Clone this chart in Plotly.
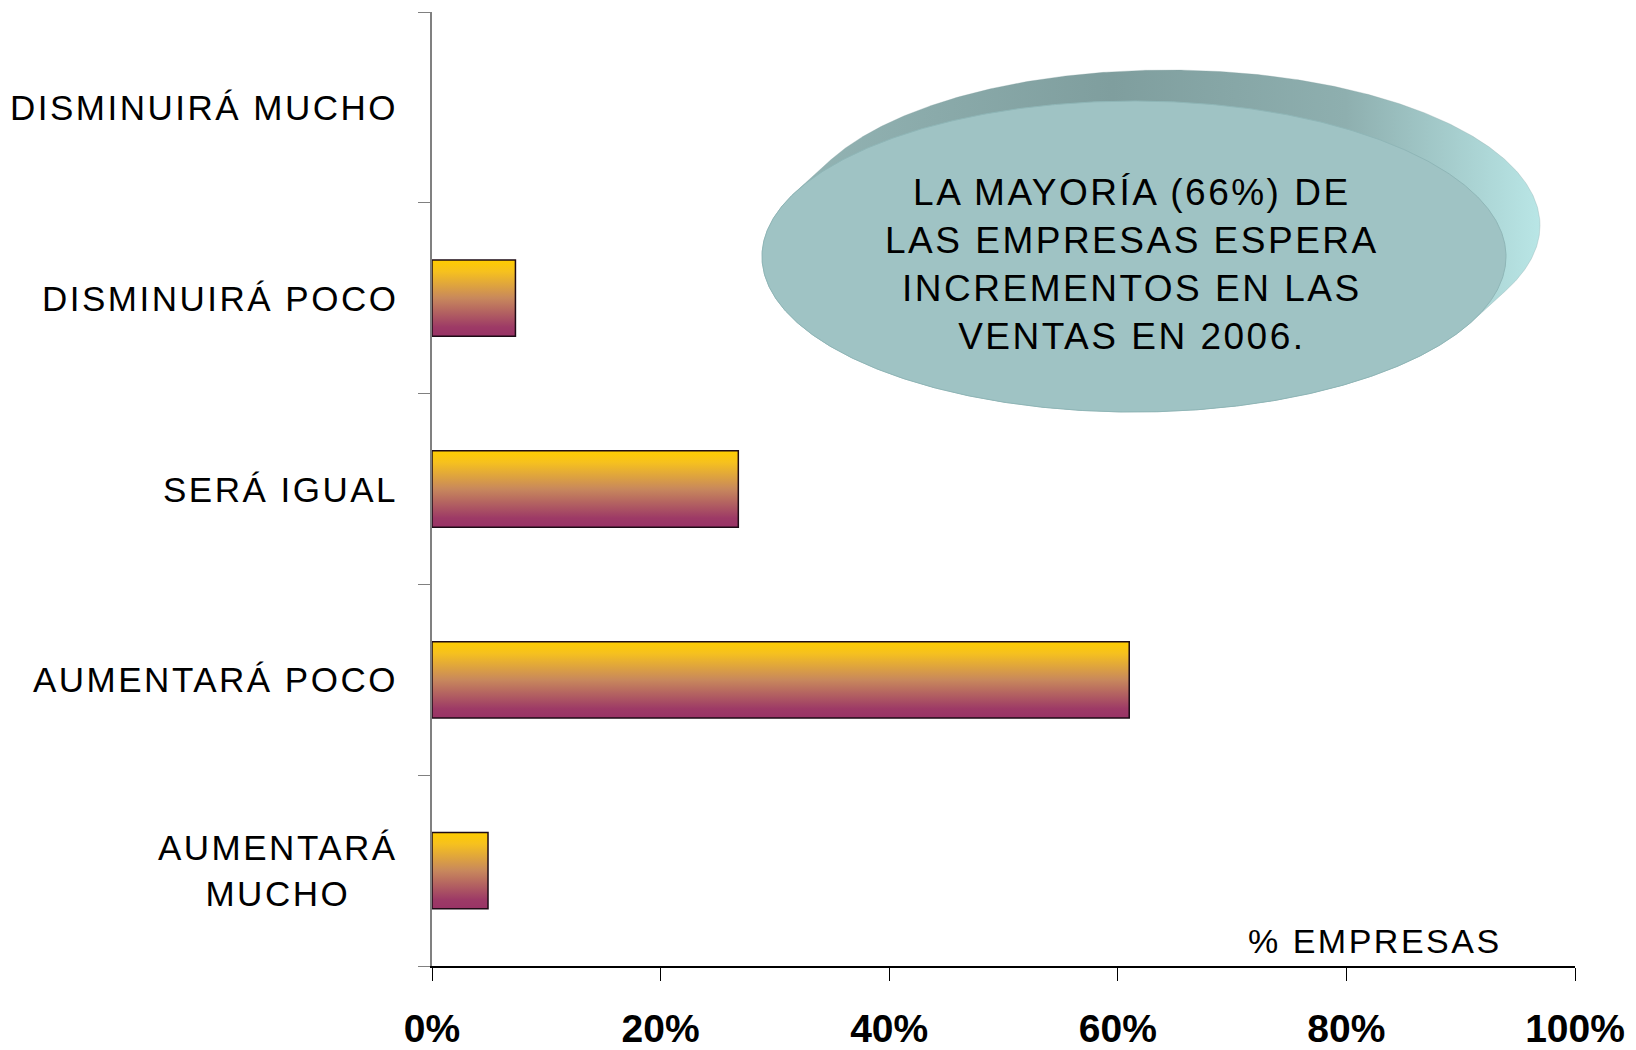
import numpy as np
import plotly.graph_objects as go

# ---------------- data ----------------
categories = ["AUMENTARÁ MUCHO", "AUMENTARÁ POCO", "SERÁ IGUAL", "DISMINUIRÁ POCO", "DISMINUIRÁ MUCHO"]
category_labels = ["AUMENTARÁ<br>MUCHO", "AUMENTARÁ POCO", "SERÁ IGUAL", "DISMINUIRÁ POCO", "DISMINUIRÁ MUCHO"]
values = [4.9, 61.0, 26.8, 7.3, 0.0]          # % empresas
x_ticks = [0, 20, 40, 60, 80, 100]
x_tick_labels = ["0%", "20%", "40%", "60%", "80%", "100%"]
callout_lines = ["LA MAYORÍA (66%) DE", "LAS EMPRESAS ESPERA", "INCREMENTOS EN LAS", "VENTAS EN 2006."]
axis_title = "% EMPRESAS"

# ---------------- layout geometry ----------------
OFF = 8                      # page body margin
W, H = 1636 - OFF, 1050 - OFF
L, R, T, B = 424, 61, 4, 84  # figure-space margins
FONT = "Liberation Sans, Arial, sans-serif"
HALF = 0.2  # half bar thickness in category units

bar_scale = [[0.0, "#993366"], [0.12, "#9d3a66"], [0.5, "#c8885c"],
             [0.85, "#f6c11e"], [1.0, "#ffcc00"]]

fig = go.Figure()

# category axis carrier (invisible bars)
fig.add_trace(go.Bar(x=values, y=categories, orientation="h", width=2 * HALF,
                     marker=dict(color="rgba(0,0,0,0)", line=dict(width=0)),
                     hoverinfo="skip", showlegend=False, xaxis="x", yaxis="y"))

# gradient bars
for i, v in enumerate(values):
    if v <= 0:
        continue
    fig.add_trace(go.Scatter(
        x=[0, v, v, 0, 0], y=[i - HALF, i - HALF, i + HALF, i + HALF, i - HALF],
        mode="lines", fill="toself",
        fillgradient=dict(type="vertical", colorscale=bar_scale),
        line=dict(color="#1e0b16", width=1.5),
        hoverinfo="skip", showlegend=False, xaxis="x", yaxis="y2"))

# callout ellipse (screen-pixel-space decoration)
cx, cy, rx, ry = 1134, 256.5, 372, 155.5
dx, dy = 34, -31
t = np.linspace(0, 2 * np.pi, 721)
px = cx + rx * np.cos(t)
py = cy + ry * np.sin(t)
nd = (np.cos(t) / rx) * dx + (np.sin(t) / ry) * dy
hull_x, hull_y = [], []
prev = None
for k in range(len(t)):
    s = nd[k] > 0
    if prev is not None and s != prev:
        if s:
            hull_x += [px[k], px[k] + dx]
            hull_y += [py[k], py[k] + dy]
        else:
            hull_x += [px[k] + dx, px[k]]
            hull_y += [py[k] + dy, py[k]]
    else:
        hull_x.append(px[k] + dx if s else px[k])
        hull_y.append(py[k] + dy if s else py[k])
    prev = s

fig.add_trace(go.Scatter(
    x=hull_x, y=hull_y, mode="lines", fill="toself",
    fillgradient=dict(type="horizontal",
                      colorscale=[[0, "#95b6b6"], [0.45, "#7f9e9e"], [0.75, "#8eafaf"], [1, "#b9e6e6"]]),
    line=dict(color="rgba(130,160,160,0.6)", width=0.5),
    hoverinfo="skip", showlegend=False, xaxis="x3", yaxis="y3"))

fig.add_trace(go.Scatter(
    x=px, y=py, mode="lines", fill="toself", fillcolor="#9fc3c4",
    line=dict(color="#8fb6b7", width=1),
    hoverinfo="skip", showlegend=False, xaxis="x3", yaxis="y3"))

# ---------------- annotations ----------------
def spaced(txt, ls):
    return "<br>".join(f'<span style="letter-spacing:{ls}px">{p}</span>' for p in txt.split("<br>"))

annotations = []
for cat, lab in zip(categories, category_labels):
    annotations.append(dict(
        x=0, xref="paper", xshift=-32, xanchor="right",
        y=cat, yref="y", yanchor="middle",
        text=spaced(lab, 2.5), showarrow=False, align="center",
        font=dict(family=FONT, size=35, color="#000000")))

annotations.append(dict(
    x=cx - 2, y=264, xref="x3", yref="y3", xanchor="center", yanchor="middle",
    text=spaced("<br>".join(callout_lines), 2.5), showarrow=False, align="center",
    font=dict(family=FONT, size=37, color="#000000")))

annotations.append(dict(
    x=1504, y=941, xref="x3", yref="y3", xanchor="right", yanchor="middle",
    text=spaced(axis_title, 2.5), showarrow=False,
    font=dict(family=FONT, size=34, color="#000000")))

fig.update_layout(
    width=W, height=H,
    margin=dict(l=L, r=R, t=T, b=B, pad=0, autoexpand=False),
    paper_bgcolor="white", plot_bgcolor="white",
    showlegend=False,
    xaxis=dict(range=[0, 100], tickvals=x_ticks, ticktext=x_tick_labels,
               showline=True, linecolor="#000000", linewidth=1.5,
               ticks="outside", ticklen=13, tickwidth=1, tickcolor="#000000",
               tickfont=dict(family=FONT, size=39, color="#000000", weight="bold"),
               ticklabelstandoff=14, automargin=False,
               showgrid=False, zeroline=False, fixedrange=True),
    yaxis=dict(type="category", categoryorder="array", categoryarray=categories,
               range=[-0.5, 4.5], tickson="boundaries",
               showline=True, linecolor="#808080", linewidth=2,
               ticks="outside", ticklen=12, tickwidth=1, tickcolor="#808080",
               showticklabels=False, showgrid=False, zeroline=False,
               automargin=False, fixedrange=True),
    yaxis2=dict(overlaying="y", range=[-0.5, 4.5], visible=False, fixedrange=True),
    xaxis3=dict(overlaying="x", anchor="y3", range=[L + OFF, L + OFF + (W - L - R)],
                visible=False, fixedrange=True),
    yaxis3=dict(overlaying="y", anchor="x3", range=[T + OFF + (H - T - B), T + OFF],
                visible=False, fixedrange=True),
    annotations=annotations,
)

fig.write_html("out.html")
